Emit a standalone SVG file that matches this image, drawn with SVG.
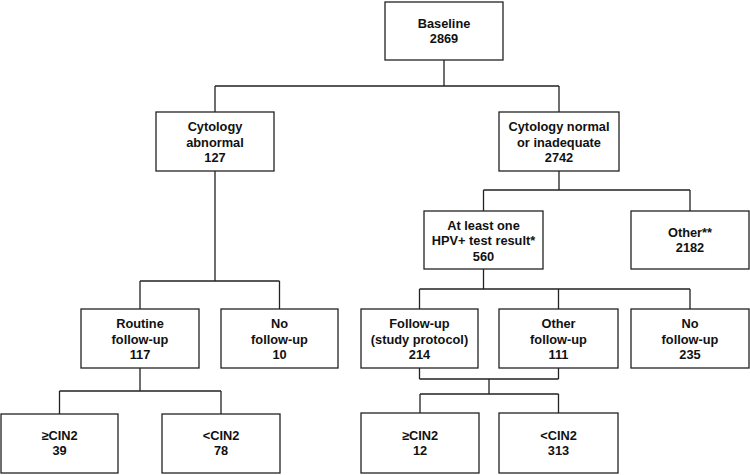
<svg xmlns="http://www.w3.org/2000/svg" width="750" height="475" viewBox="0 0 750 475">
<style>
.box{fill:#fff;stroke:#222;stroke-width:1.3}
.t{font-family:"Liberation Sans",Arial,sans-serif;font-weight:bold;font-size:12.8px;fill:#111;text-anchor:middle}
.c{fill:none;stroke:#222;stroke-width:1.3}
</style>
<rect width="750" height="475" fill="#fff"/>
<g id="connectors" class="c">
<path d="M444 60V86M215 86H559M215 86V112M559 86V112"/>
<path d="M215 171V281M140 281H279.5M140 281V309M279.5 281V309"/>
<path d="M559 171V190M483.5 190H690M483.5 190V211M690 190V211"/>
<path d="M483.5 269V289M419.5 289H690M419.5 289V309M558.5 289V309M690 289V309"/>
<path d="M140 368V391M59.5 391H221M59.5 391V414M221 391V414"/>
<path d="M419.5 368V379M558.5 368V379M419.5 379H558.5M489 379V394M420 394H558.5M420 394V413M558.5 394V413"/>
</g>
<g id="baseline"><rect class="box" x="385" y="2" width="118" height="58"/><text class="t" x="444" y="28">Baseline</text><text class="t" x="444" y="43">2869</text></g>
<g id="cytology-abnormal"><rect class="box" x="156" y="112" width="118" height="59"/><text class="t" x="215" y="131">Cytology</text><text class="t" x="215" y="146.5">abnormal</text><text class="t" x="215" y="162">127</text></g>
<g id="cytology-normal"><rect class="box" x="499" y="112" width="120" height="59"/><text class="t" x="559" y="131">Cytology normal</text><text class="t" x="559" y="146.5">or inadequate</text><text class="t" x="559" y="162">2742</text></g>
<g id="hpv-positive"><rect class="box" x="424" y="211" width="119" height="58"/><text class="t" x="483.5" y="229.5">At least one</text><text class="t" x="483.5" y="245">HPV+ test result*</text><text class="t" x="483.5" y="260.5">560</text></g>
<g id="other"><rect class="box" x="631" y="211" width="118" height="58"/><text class="t" x="690" y="237">Other**</text><text class="t" x="690" y="252">2182</text></g>
<g id="routine-follow-up"><rect class="box" x="81" y="309" width="118" height="59"/><text class="t" x="140" y="328">Routine</text><text class="t" x="140" y="343.5">follow-up</text><text class="t" x="140" y="359">117</text></g>
<g id="no-follow-up-1"><rect class="box" x="221" y="309" width="117" height="59"/><text class="t" x="279.5" y="328">No</text><text class="t" x="279.5" y="343.5">follow-up</text><text class="t" x="279.5" y="359">10</text></g>
<g id="follow-up-study"><rect class="box" x="361" y="309" width="117" height="59"/><text class="t" x="419.5" y="328">Follow-up</text><text class="t" x="419.5" y="343.5">(study protocol)</text><text class="t" x="419.5" y="359">214</text></g>
<g id="other-follow-up"><rect class="box" x="499" y="309" width="119" height="59"/><text class="t" x="558.5" y="328">Other</text><text class="t" x="558.5" y="343.5">follow-up</text><text class="t" x="558.5" y="359">111</text></g>
<g id="no-follow-up-2"><rect class="box" x="631" y="309" width="118" height="59"/><text class="t" x="690" y="328">No</text><text class="t" x="690" y="343.5">follow-up</text><text class="t" x="690" y="359">235</text></g>
<g id="cin2-plus-a"><rect class="box" x="1" y="414" width="117" height="59"/><text class="t" x="59.5" y="440">≥CIN2</text><text class="t" x="59.5" y="455">39</text></g>
<g id="cin2-minus-a"><rect class="box" x="162" y="414" width="118" height="59"/><text class="t" x="221" y="440">&lt;CIN2</text><text class="t" x="221" y="455">78</text></g>
<g id="cin2-plus-b"><rect class="box" x="361" y="413" width="118" height="60"/><text class="t" x="420" y="440">≥CIN2</text><text class="t" x="420" y="455">12</text></g>
<g id="cin2-minus-b"><rect class="box" x="499" y="413" width="119" height="60"/><text class="t" x="558.5" y="440">&lt;CIN2</text><text class="t" x="558.5" y="455">313</text></g>
</svg>
